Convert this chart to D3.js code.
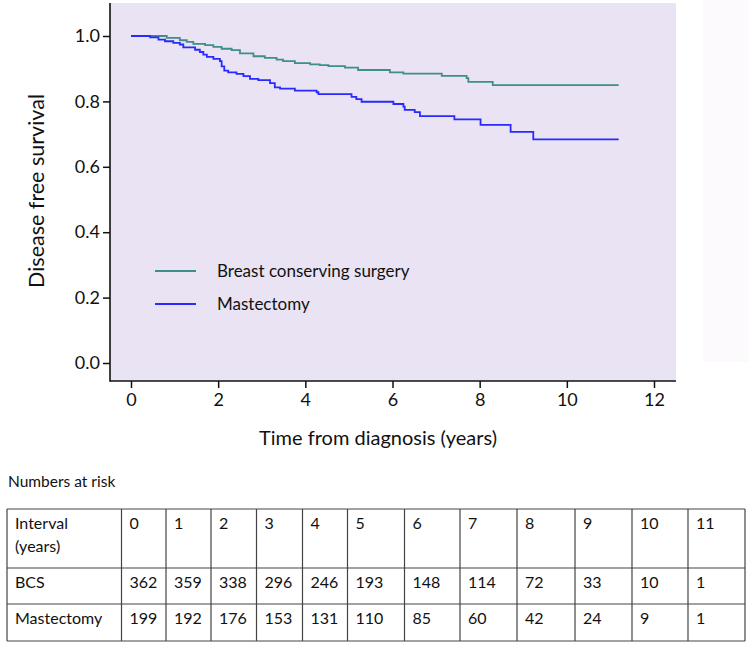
<!DOCTYPE html>
<html>
<head>
<meta charset="utf-8">
<script src="https://cdn.jsdelivr.net/npm/d3@7"></script>
<style>
  body { margin: 0; background: #fff; }
  svg text { font-family: Lato, "Open Sans", sans-serif; fill: #111; }
</style>
</head>
<body>
<div id="graphic"></div>
<script>
// survival steps (time in years, survival after the step)
const bcsTimes = [0, 0.82, 1.12, 1.28, 1.43, 1.70, 1.89, 2.08, 2.31, 2.50, 2.81, 3.07, 3.34, 3.49, 3.76, 4.11, 4.33, 4.53, 4.91, 5.21, 5.94, 6.25, 7.13, 7.70, 7.74, 8.30, 11.19]
const bcsSurv = [1, 0.994, 0.987, 0.982, 0.976, 0.972, 0.967, 0.961, 0.957, 0.947, 0.938, 0.933, 0.928, 0.923, 0.917, 0.913, 0.911, 0.908, 0.903, 0.896, 0.889, 0.885, 0.878, 0.871, 0.860, 0.850, 0.850]
const mastTimes = [0, 0.44, 0.63, 0.78, 0.97, 1.12, 1.20, 1.47, 1.58, 1.66, 1.74, 1.89, 2.04, 2.08, 2.14, 2.23, 2.42, 2.58, 2.73, 2.92, 3.19, 3.30, 3.42, 3.76, 4.26, 4.30, 5.06, 5.17, 5.29, 6.02, 6.25, 6.28, 6.51, 6.63, 7.42, 8.02, 8.71, 9.23, 11.19]
const mastSurv = [1, 0.996, 0.989, 0.984, 0.979, 0.974, 0.965, 0.958, 0.951, 0.943, 0.936, 0.930, 0.923, 0.907, 0.894, 0.889, 0.884, 0.877, 0.869, 0.865, 0.856, 0.843, 0.839, 0.833, 0.828, 0.822, 0.814, 0.807, 0.799, 0.792, 0.784, 0.774, 0.767, 0.755, 0.745, 0.728, 0.707, 0.684, 0.684]

const xTicks = [0, 2, 4, 6, 8, 10, 12]
const yTicks = [0, 0.2, 0.4, 0.6, 0.8, 1.0]
const seriesNames = ["Breast conserving surgery", "Mastectomy"]
const seriesColors = ["#3e8e8a", "#2a2aff"]

// numbers at risk table
const intervals = ["0", "1", "2", "3", "4", "5", "6", "7", "8", "9", "10", "11"]
const bcsRisk = [362, 359, 338, 296, 246, 193, 148, 114, 72, 33, 10, 1]
const mastRisk = [199, 192, 176, 153, 131, 110, 85, 60, 42, 24, 9, 1]

const svg = d3.select("#graphic").append("svg")
    .attr("width", 749)
    .attr("height", 646)

// plot frame
const frame = { left: 110, right: 676, top: 3, bottom: 381 }

let x = d3.scaleLinear().domain([0, 12]).range([131, 654])
let y = d3.scaleLinear().domain([0, 1]).range([363, 36])

// faint panel at the far right
svg.append("rect")
    .attr("x", 703).attr("y", 0)
    .attr("width", 46).attr("height", 362)
    .attr("fill", "#fcfafc")

svg.append("rect")
    .attr("x", frame.left).attr("y", frame.top)
    .attr("width", frame.right - frame.left)
    .attr("height", frame.bottom - frame.top)
    .attr("fill", "#e9e3f3")

// y axis
let yAxis = svg.append("g")
    .attr("transform", "translate(" + frame.left + ",0)")
    .call(d3.axisLeft(y).tickValues(yTicks).tickFormat(d3.format(".1f")).tickSize(7).tickSizeOuter(0))
yAxis.select(".domain").remove()
yAxis.selectAll("line").attr("stroke", "#111").attr("stroke-width", 1.5)
yAxis.selectAll("text")
    .attr("x", -10)
    .style("font-size", "18px")
    .style("font-family", "Lato, sans-serif")
    .attr("fill", "#111")

// x axis
let xAxis = svg.append("g")
    .attr("transform", "translate(0," + frame.bottom + ")")
    .call(d3.axisBottom(x).tickValues(xTicks).tickSize(7).tickSizeOuter(0))
xAxis.select(".domain").remove()
xAxis.selectAll("line").attr("stroke", "#111").attr("stroke-width", 1.5)
xAxis.selectAll("text")
    .attr("y", 12)
    .style("font-size", "18px")
    .style("font-family", "Lato, sans-serif")
    .attr("fill", "#111")

svg.append("line")
    .attr("x1", frame.left).attr("x2", frame.left)
    .attr("y1", frame.top).attr("y2", frame.bottom + 0.75)
    .attr("stroke", "#111").attr("stroke-width", 1.6)
svg.append("line")
    .attr("x1", frame.left).attr("x2", frame.right)
    .attr("y1", frame.bottom).attr("y2", frame.bottom)
    .attr("stroke", "#111").attr("stroke-width", 1.6)

// axis titles
svg.append("text")
    .attr("transform", "translate(44,191) rotate(-90)")
    .attr("text-anchor", "middle")
    .style("font-size", "21.5px")
    .text("Disease free survival")

svg.append("text")
    .attr("x", 378).attr("y", 445)
    .attr("text-anchor", "middle")
    .style("font-size", "20px")
    .text("Time from diagnosis (years)")

// survival curves
const curves = [
    d3.zip(bcsTimes, bcsSurv),
    d3.zip(mastTimes, mastSurv)
]
let line = d3.line()
    .x(function (d) { return x(d[0]) })
    .y(function (d) { return y(d[1]) })
    .curve(d3.curveStepAfter)

svg.selectAll(null)
    .data(curves)
    .enter().append("path")
    .attr("d", line)
    .attr("fill", "none")
    .attr("stroke", function (d, i) { return seriesColors[i] })
    .attr("stroke-width", 1.8)

// legend
let legend = svg.selectAll(null)
    .data(seriesNames)
    .enter().append("g")
    .attr("transform", function (d, i) { return "translate(155," + (271 + i * 33) + ")" })
legend.append("line")
    .attr("x1", 0).attr("x2", 41)
    .attr("stroke", function (d, i) { return seriesColors[i] })
    .attr("stroke-width", 1.8)
legend.append("text")
    .attr("x", 62).attr("dy", "0.35em")
    .style("font-size", "17px")
    .text(function (d) { return d })

// numbers at risk
svg.append("text")
    .attr("x", 8).attr("y", 487)
    .style("font-size", "15.5px")
    .text("Numbers at risk")

const colEdges = [7, 121.5, 166, 211, 256.5, 302.5, 347.5, 404.5, 460, 517, 575, 632, 688, 745]
const rowEdges = [509, 568, 604, 641]
const rows = [
    ["Interval", ...intervals],
    ["BCS", ...bcsRisk],
    ["Mastectomy", ...mastRisk]
]

let table = svg.append("g")
table.selectAll(null)
    .data(rowEdges)
    .enter().append("line")
    .attr("x1", colEdges[0]).attr("x2", colEdges[colEdges.length - 1])
    .attr("y1", function (d) { return d }).attr("y2", function (d) { return d })
    .attr("stroke", "#444").attr("stroke-width", 1.2)
table.selectAll(null)
    .data(colEdges)
    .enter().append("line")
    .attr("y1", rowEdges[0]).attr("y2", rowEdges[rowEdges.length - 1])
    .attr("x1", function (d) { return d }).attr("x2", function (d) { return d })
    .attr("stroke", "#444").attr("stroke-width", 1.2)

rows.forEach(function (row, r) {
    table.selectAll(null)
        .data(row)
        .enter().append("text")
        .attr("x", function (d, c) { return colEdges[c] + 8 })
        .attr("y", rowEdges[r] + 20)
        .style("font-size", "16px")
        .text(function (d) { return d })
})
table.append("text")
    .attr("x", colEdges[0] + 8)
    .attr("y", rowEdges[0] + 43)
    .style("font-size", "16px")
    .text("(years)")
</script>
</body>
</html>
